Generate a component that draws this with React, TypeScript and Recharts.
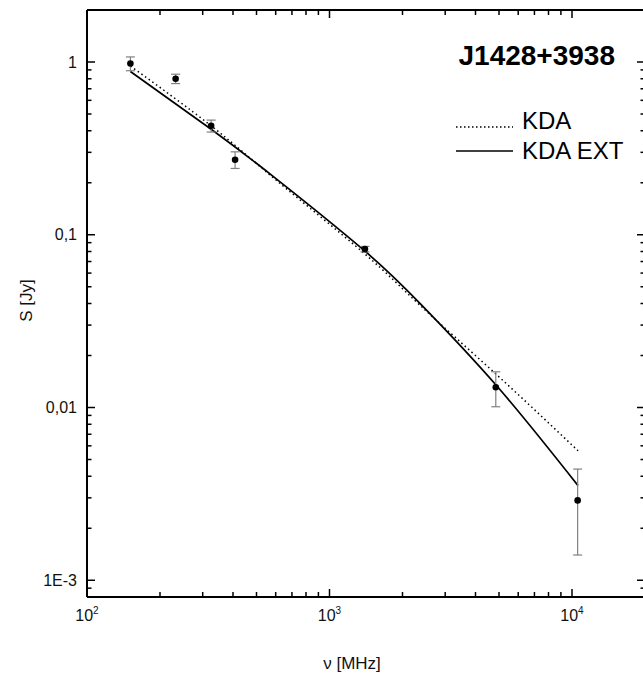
import React from 'react'
import { ComposedChart, Line, Scatter, ErrorBar, XAxis, YAxis, Legend } from 'recharts'

// measured flux densities
const freqObs = [151, 232, 325, 408, 1400, 4850, 10550]
const fluxObs = [0.98, 0.8, 0.427, 0.272, 0.0826, 0.0131, 0.0029]
const fluxErr = [0.09, 0.05, 0.034, 0.03, 0.003, 0.003, 0.0015]

// model curves
const freqModel = [151, 325, 605, 1390, 2360, 4860, 10590]
const fluxKda = [0.948, 0.427, 0.206, 0.078, 0.0391, 0.0156, 0.00562]
const fluxKdaExt = [0.881, 0.408, 0.21, 0.0811, 0.0401, 0.0135, 0.00353]

const xTicks = [
  100, 200, 300, 400, 500, 600, 700, 800, 900,
  1000, 2000, 3000, 4000, 5000, 6000, 7000, 8000, 9000,
  10000, 20000,
]
const xMajor = [100, 1000, 10000]
const xMajorExp = ['2', '3', '4']

const yTicks = [
  0.0008, 0.0009,
  0.001, 0.002, 0.003, 0.004, 0.005, 0.006, 0.007, 0.008, 0.009,
  0.01, 0.02, 0.03, 0.04, 0.05, 0.06, 0.07, 0.08, 0.09,
  0.1, 0.2, 0.3, 0.4, 0.5, 0.6, 0.7, 0.8, 0.9,
  1, 2,
]
const yMajor = [0.001, 0.01, 0.1, 1]
const yMajorLabels = ['1E-3', '0,01', '0,1', '1']

const FONT = '"Liberation Sans", Arial, Helvetica, sans-serif'

const obsData = freqObs.map((f, i) => ({ f, s: fluxObs[i], err: fluxErr[i] }))
const kdaData = freqModel.map((f, i) => ({ f, s: fluxKda[i] }))
const kdaExtData = freqModel.map((f, i) => ({ f, s: fluxKdaExt[i] }))

const majorIndex = (v: number, majors: number[]) =>
  majors.findIndex((m) => Math.abs(m - v) / m < 1e-6)

const BottomTick = (props: any) => {
  const { x, y, payload } = props
  const i = majorIndex(payload.value, xMajor)
  const len = i >= 0 ? 8 : 5
  return (
    <g>
      <line x1={x} y1={y} x2={x} y2={y - len} stroke="#000" strokeWidth={1.5} />
      {i >= 0 && (
        <text x={x} y={y + 24} textAnchor="middle" fontFamily={FONT} fontSize={16} fill="#111">
          10
          <tspan dy={-7} fontSize={10}>
            {xMajorExp[i]}
          </tspan>
        </text>
      )}
    </g>
  )
}

const TopTick = (props: any) => {
  const { x, y, payload } = props
  const len = majorIndex(payload.value, xMajor) >= 0 ? 8 : 5
  return <line x1={x} y1={y} x2={x} y2={y + len} stroke="#000" strokeWidth={1.5} />
}

const LeftTick = (props: any) => {
  const { x, y, payload } = props
  const i = majorIndex(payload.value, yMajor)
  const len = i >= 0 ? 8 : 4.5
  return (
    <g>
      <line x1={x} y1={y} x2={x + len} y2={y} stroke="#000" strokeWidth={1.5} />
      {i >= 0 && (
        <text x={x - 10} y={y + 5.5} textAnchor="end" fontFamily={FONT} fontSize={16} fill="#111">
          {yMajorLabels[i]}
        </text>
      )}
    </g>
  )
}

const RightTick = (props: any) => {
  const { x, y, payload } = props
  const len = majorIndex(payload.value, yMajor) >= 0 ? 8 : 4.5
  return <line x1={x} y1={y} x2={x - len} y2={y} stroke="#000" strokeWidth={1.5} />
}

const ObsDot = (props: any) => <circle cx={props.cx} cy={props.cy} r={3.3} fill="#000" />

const LegendBox = () => (
  <svg width={200} height={170} style={{ display: 'block' }} fontFamily={FONT}>
    <text x={175} y={65} textAnchor="end" fontWeight="bold" fontSize={28} fill="#000">
      J1428+3938
    </text>
    <line x1={16} x2={73} y1={127} y2={127} stroke="#000" strokeWidth={1.3} strokeDasharray="1.5 2.5" />
    <text x={82} y={129} fontSize={24} fill="#000">
      KDA
    </text>
    <line x1={16} x2={73} y1={151} y2={151} stroke="#000" strokeWidth={1.3} />
    <text x={82} y={159} fontSize={24} fill="#000">
      KDA EXT
    </text>
  </svg>
)

const axisLine = { stroke: '#000', strokeWidth: 2 }

export default function App() {
  return (
    <div
      style={{
        position: 'absolute',
        left: 0,
        top: 0,
        width: 643,
        height: 675,
        overflow: 'hidden',
        background: '#fff',
      }}
    >
      <ComposedChart width={662} height={675} margin={{ top: 0, right: 0, bottom: 0, left: 0 }}>
        <XAxis
          dataKey="f"
          type="number"
          scale="log"
          domain={[100, 20000]}
          allowDataOverflow
          ticks={xTicks}
          interval={0}
          tickSize={0}
          tickMargin={0}
          tick={BottomTick}
          axisLine={axisLine}
          height={78}
          label={(p: any) => {
            const vb = p.viewBox
            return (
              <text
                x={vb.x + vb.width / 2 - 14}
                y={vb.y + 72}
                textAnchor="middle"
                fontFamily={FONT}
                fontSize={17}
                fill="#111"
              >
                ν [MHz]
              </text>
            )
          }}
        />
        <XAxis
          xAxisId="top"
          orientation="top"
          dataKey="f"
          type="number"
          scale="log"
          domain={[100, 20000]}
          allowDataOverflow
          ticks={xTicks}
          interval={0}
          tickSize={0}
          tickMargin={0}
          tick={TopTick}
          axisLine={axisLine}
          height={10}
        />
        <YAxis
          dataKey="s"
          type="number"
          scale="log"
          domain={[0.0008, 2]}
          allowDataOverflow
          ticks={yTicks}
          interval={0}
          tickSize={0}
          tickMargin={0}
          tick={LeftTick}
          axisLine={axisLine}
          width={87}
          label={(p: any) => {
            const vb = p.viewBox
            const cx = vb.x + 28
            const cy = vb.y + vb.height / 2 - 3
            return (
              <text
                x={cx}
                y={cy}
                transform={`rotate(-90 ${cx} ${cy})`}
                textAnchor="middle"
                dominantBaseline="middle"
                fontFamily={FONT}
                fontSize={17}
                fill="#111"
              >
                S [Jy]
              </text>
            )
          }}
        />
        <YAxis
          yAxisId="right"
          orientation="right"
          dataKey="s"
          type="number"
          scale="log"
          domain={[0.0008, 2]}
          allowDataOverflow
          ticks={yTicks}
          interval={0}
          tickSize={0}
          tickMargin={0}
          tick={RightTick}
          axisLine={axisLine}
          width={17}
        />
        <Line
          data={kdaData}
          dataKey="s"
          type="natural"
          stroke="#000"
          strokeWidth={1.5}
          strokeDasharray="1.5 3"
          dot={false}
          activeDot={false}
          isAnimationActive={false}
        />
        <Line
          data={kdaExtData}
          dataKey="s"
          type="natural"
          stroke="#000"
          strokeWidth={1.7}
          dot={false}
          activeDot={false}
          isAnimationActive={false}
        />
        <Scatter data={obsData} dataKey="s" shape={ObsDot} isAnimationActive={false}>
          <ErrorBar dataKey="err" direction="y" width={4.5} stroke="#808080" strokeWidth={1.2} />
        </Scatter>
        <Legend
          layout="vertical"
          align="center"
          verticalAlign="middle"
          wrapperStyle={{ left: 440, top: 0, width: 200, height: 170 }}
          content={() => <LegendBox />}
        />
      </ComposedChart>
    </div>
  )
}
